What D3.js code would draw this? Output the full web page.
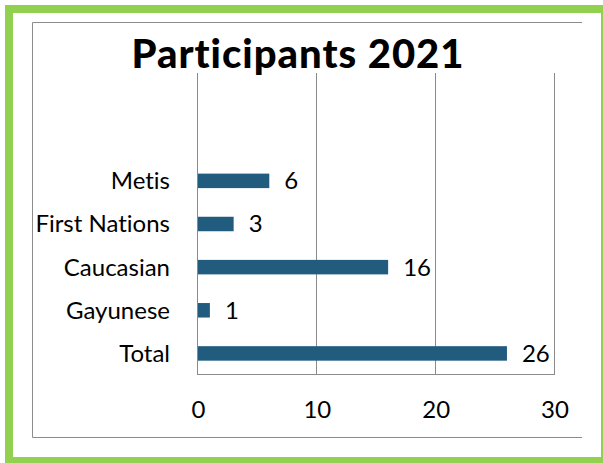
<!DOCTYPE html>
<html>
<head>
<meta charset="utf-8">
<script src="https://cdn.jsdelivr.net/npm/d3@7"></script>
<style>
  html, body { margin: 0; padding: 0; background: #fff; }
  svg { display: block; }
  text { font-variant-ligatures: none; }
</style>
</head>
<body>
<script>
// ---------- DATA ----------
var title = "Participants 2021";
var categories = ["Metis", "First Nations", "Caucasian", "Gayunese", "Total"];
var values = [6, 3, 16, 1, 26];
var emptySlots = [" ", "  "];          // two blank rows above Metis in the original sheet
var tickValues = [0, 10, 20, 30];

// ---------- DIMENSIONS ----------
var w = 603, h = 463;
var plot = { left: 198, right: 554.5, top: 73, bottom: 375 };
var font = "Lato, 'Open Sans', sans-serif";
var labelSize = "24px";
var barColor = "#215C7F";
var gridColor = "#8a8a8a";

var svg = d3.select("body").append("svg")
  .attr("width", w)
  .attr("height", h);

// green frame (cut off at right/bottom edge like the screenshot)
svg.append("rect")
  .attr("x", 9).attr("y", 9)
  .attr("width", 596).attr("height", 452)
  .attr("fill", "none")
  .attr("stroke", "#92D050")
  .attr("stroke-width", 8);

// gray chart box: top, left, bottom only
var box = { x0: 32.5, x1: 582, y0: 22.5, y1: 437.5 };
svg.append("path")
  .attr("d", "M" + box.x1 + "," + box.y0 + "H" + box.x0 + "V" + box.y1 + "H" + box.x1)
  .attr("fill", "none")
  .attr("stroke", "#8c8c8c")
  .attr("stroke-width", 1);

// ---------- SCALES ----------
var x = d3.scaleLinear().domain([0, 30]).range([plot.left, plot.right]);

var y = d3.scaleBand()
  .domain(categories.slice().reverse().concat(emptySlots))
  .range([plot.bottom, plot.top])
  .paddingInner(0.664)
  .paddingOuter(0.332);

function crisp(v) { return Math.round(v) - 0.5; }

// ---------- GRID ----------
svg.append("g").selectAll("line")
  .data(tickValues)
  .enter()
  .append("line")
  .attr("x1", d => crisp(x(d))).attr("x2", d => crisp(x(d)))
  .attr("y1", plot.top).attr("y2", plot.bottom)
  .attr("stroke", gridColor)
  .attr("stroke-width", 1);

svg.append("line")
  .attr("x1", crisp(x(0))).attr("x2", crisp(x(30)) + 0.5)
  .attr("y1", crisp(plot.bottom)).attr("y2", crisp(plot.bottom))
  .attr("stroke", gridColor)
  .attr("stroke-width", 1);

// ---------- BARS ----------
var rows = categories.map((c, i) => ({ cat: c, value: values[i] }));

svg.append("g").selectAll("rect")
  .data(rows)
  .enter()
  .append("rect")
  .attr("x", x(0))
  .attr("y", d => y(d.cat))
  .attr("width", d => x(d.value) - x(0))
  .attr("height", y.bandwidth())
  .attr("fill", barColor);

// value labels
svg.append("g").selectAll("text")
  .data(rows)
  .enter()
  .append("text")
  .attr("x", d => x(d.value) + 15)
  .attr("y", d => y(d.cat) + y.bandwidth() / 2)
  .attr("dy", "0.35em")
  .attr("font-family", font)
  .attr("font-size", labelSize)
  .attr("fill", "#000")
  .text(d => d.value);

// category labels
svg.append("g").selectAll("text")
  .data(rows)
  .enter()
  .append("text")
  .attr("x", 170)
  .attr("y", d => y(d.cat) + y.bandwidth() / 2)
  .attr("dy", "0.35em")
  .attr("text-anchor", "end")
  .attr("font-family", font)
  .attr("font-size", labelSize)
  .attr("fill", "#000")
  .text(d => d.cat);

// ---------- X AXIS ----------
var xAxis = d3.axisBottom(x)
  .tickValues(tickValues)
  .tickSize(0)
  .tickPadding(0);

var gx = svg.append("g")
  .attr("transform", "translate(0," + 418 + ")")
  .call(xAxis);
gx.select(".domain").remove();
gx.selectAll("text")
  .attr("dy", 0)
  .attr("y", 0)
  .attr("font-family", font)
  .attr("font-size", labelSize)
  .attr("fill", "#000");

// ---------- TITLE ----------
var t = svg.append("text")
  .attr("x", 297.5)
  .attr("y", 68)
  .attr("text-anchor", "middle")
  .attr("font-family", font)
  .attr("font-weight", "900")
  .attr("font-size", "40px")
  .attr("fill", "#000")
  .text(title);

// Calibri Bold is wider than Lato: spread letters to the reference width (~332px)
var tw = t.node().getComputedTextLength();
var spacing = (332 - tw) / (title.length - 1);
t.attr("letter-spacing", spacing.toFixed(2) + "px")
  .attr("x", 297.5 + spacing / 2);
</script>
</body>
</html>
